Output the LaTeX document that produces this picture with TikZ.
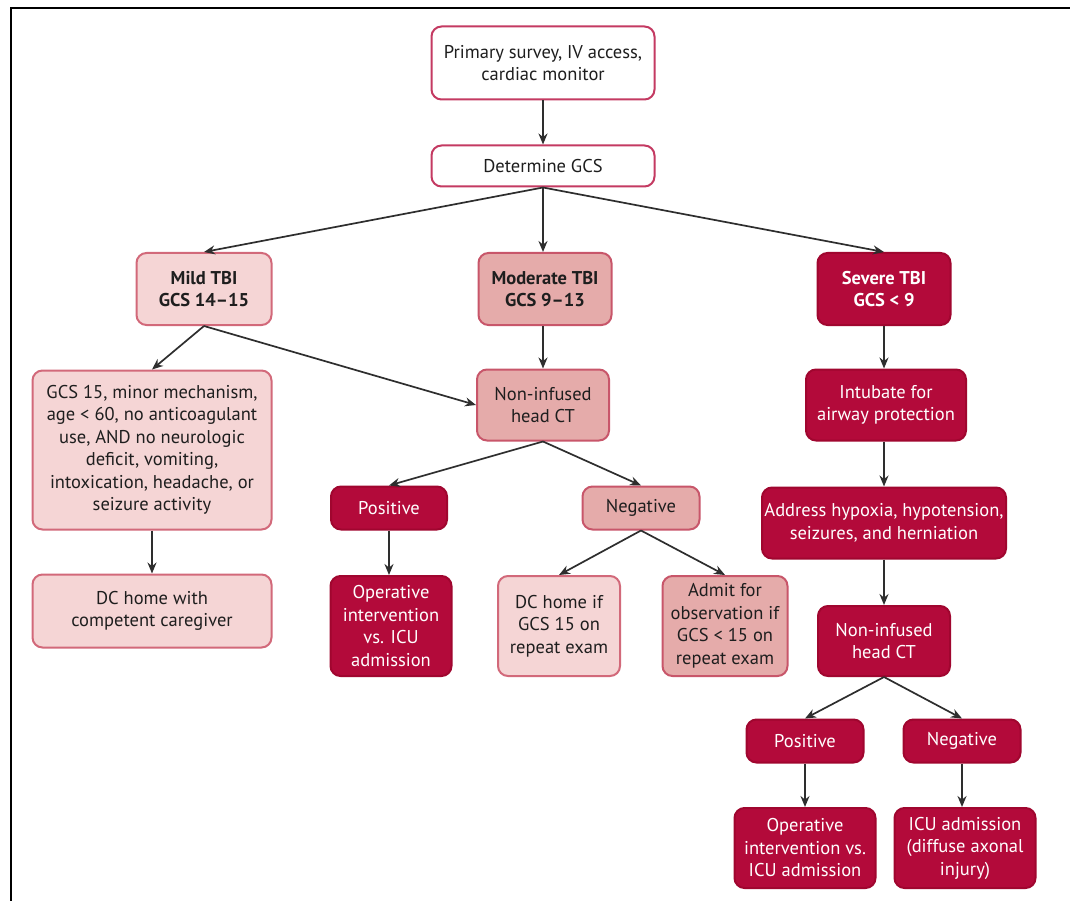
\documentclass[tikz,border=0pt]{standalone}
\usepackage{fontspec}
\setmainfont{PT Sans}
\usetikzlibrary{arrows.meta}
\definecolor{crim}{HTML}{B30A3A}
\definecolor{crimbd}{HTML}{A0062F}
\definecolor{wbd}{HTML}{C43A62}
\definecolor{lpink}{HTML}{F5D5D5}
\definecolor{lpbd}{HTML}{D2697A}
\definecolor{mpink}{HTML}{E5ABAA}
\definecolor{mpbd}{HTML}{C8566A}
\definecolor{txt}{HTML}{1E1E1E}
\definecolor{arr}{HTML}{2E2E2E}
\tikzset{
  box/.style={rounded corners=10pt, line width=2pt, align=center, inner sep=2pt,
    font=\fontsize{18.5}{22.5}\selectfont, text=txt},
  bfbox/.style={font=\fontsize{18.5}{22.5}\selectfont\bfseries},
  wbox/.style={box, draw=wbd, fill=white},
  lbox/.style={box, draw=lpbd, fill=lpink},
  mbox/.style={box, draw=mpbd, fill=mpink},
  dbox/.style={box, draw=crimbd, fill=crim, text=white},
  conn/.style={draw=arr, line width=1.7pt, -{Stealth[length=11pt,width=9pt]}},
}
\begin{document}
\begin{tikzpicture}[x=1pt,y=-1pt]
\useasboundingbox (0,0) rectangle (1070,901);
\fill[white] (0,0) rectangle (1070,901);
\draw[line width=2.2pt,black] (11,901) -- (11,8) -- (1070,8);

\node[wbox, minimum width=223pt, minimum height=73pt] (prim) at (543,63) {Primary survey, IV access,\\cardiac monitor};
\node[wbox, minimum width=223pt, minimum height=41pt] (det) at (543,166) {Determine GCS};

\node[lbox, bfbox, minimum width=135pt, minimum height=72pt] (mild) at (204,289) {Mild TBI\\GCS 14--15};
\node[mbox, bfbox, minimum width=133pt, minimum height=72pt] (mod) at (545,289) {Moderate TBI\\GCS 9--13};
\node[dbox, bfbox, minimum width=133pt, minimum height=72pt] (sev) at (884,289) {Severe TBI\\GCS < 9};

\node[lbox, minimum width=239pt, minimum height=159pt] (crit) at (152,450) {GCS 15, minor mechanism,\\age < 60, no anticoagulant\\use, AND no neurologic\\deficit, vomiting,\\intoxication, headache, or\\seizure activity};
\node[lbox, minimum width=239pt, minimum height=73pt] (dchome) at (152,611) {DC home with\\competent caregiver};

\node[mbox, minimum width=132pt, minimum height=71pt] (ctm) at (543,405) {Non-infused\\head CT};
\node[dbox, minimum width=116pt, minimum height=43pt] (posm) at (389,508) {Positive};
\node[mbox, minimum width=117pt, minimum height=43pt] (negm) at (641,508) {Negative};
\node[dbox, minimum width=121pt, minimum height=100pt] (opm) at (391,626) {Operative\\intervention\\vs. ICU\\admission};
\node[lbox, minimum width=122pt, minimum height=100pt] (dcif) at (559,626) {DC home if\\GCS 15 on\\repeat exam};
\node[mbox, minimum width=125pt, minimum height=100pt] (adm) at (725,626) {Admit for\\observation if\\GCS < 15 on\\repeat exam};

\node[dbox, minimum width=160pt, minimum height=71pt] (intub) at (886,405) {Intubate for\\airway protection};
\node[dbox, minimum width=244pt, minimum height=71pt] (addr) at (884,523) {Address hypoxia, hypotension,\\seizures, and herniation};
\node[dbox, minimum width=132pt, minimum height=70pt] (cts) at (884,641) {Non-infused\\head CT};
\node[dbox, minimum width=117pt, minimum height=43pt] (poss) at (805,741) {Positive};
\node[dbox, minimum width=117pt, minimum height=43pt] (negs) at (962,741) {Negative};
\node[dbox, minimum width=141pt, minimum height=80pt] (ops) at (805,848) {Operative\\intervention vs.\\ICU admission};
\node[dbox, minimum width=141pt, minimum height=80pt] (icu) at (965,848) {ICU admission\\(diffuse axonal\\injury)};

\draw[conn] (prim) -- (det);
\draw[conn] (det.south) -- (mild.north);
\draw[conn] (det.south) -- (mod.north -| det.south);
\draw[conn] (det.south) -- (sev.north);
\draw[conn] (mild.south) -- (crit.north);
\draw[conn] (mild.south) -- (ctm.west);
\draw[conn] (crit) -- (dchome);
\draw[conn] (mod.south -| ctm.north) -- (ctm.north);
\draw[conn] (ctm.south) -- (posm.north);
\draw[conn] (ctm.south) -- (negm.north);
\draw[conn] (posm) -- (opm.north -| posm.south);
\draw[conn] (negm.south) -- (dcif.north);
\draw[conn] (negm.south) -- (adm.north);
\draw[conn] (sev) -- (sev.south |- intub.north);
\draw[conn] (intub.south -| addr.north) -- (addr.north);
\draw[conn] (addr) -- (cts);
\draw[conn] (cts.south) -- (poss.north);
\draw[conn] (cts.south) -- (negs.north);
\draw[conn] (poss) -- (ops);
\draw[conn] (negs) -- (negs.south |- icu.north);
\end{tikzpicture}
\end{document}
